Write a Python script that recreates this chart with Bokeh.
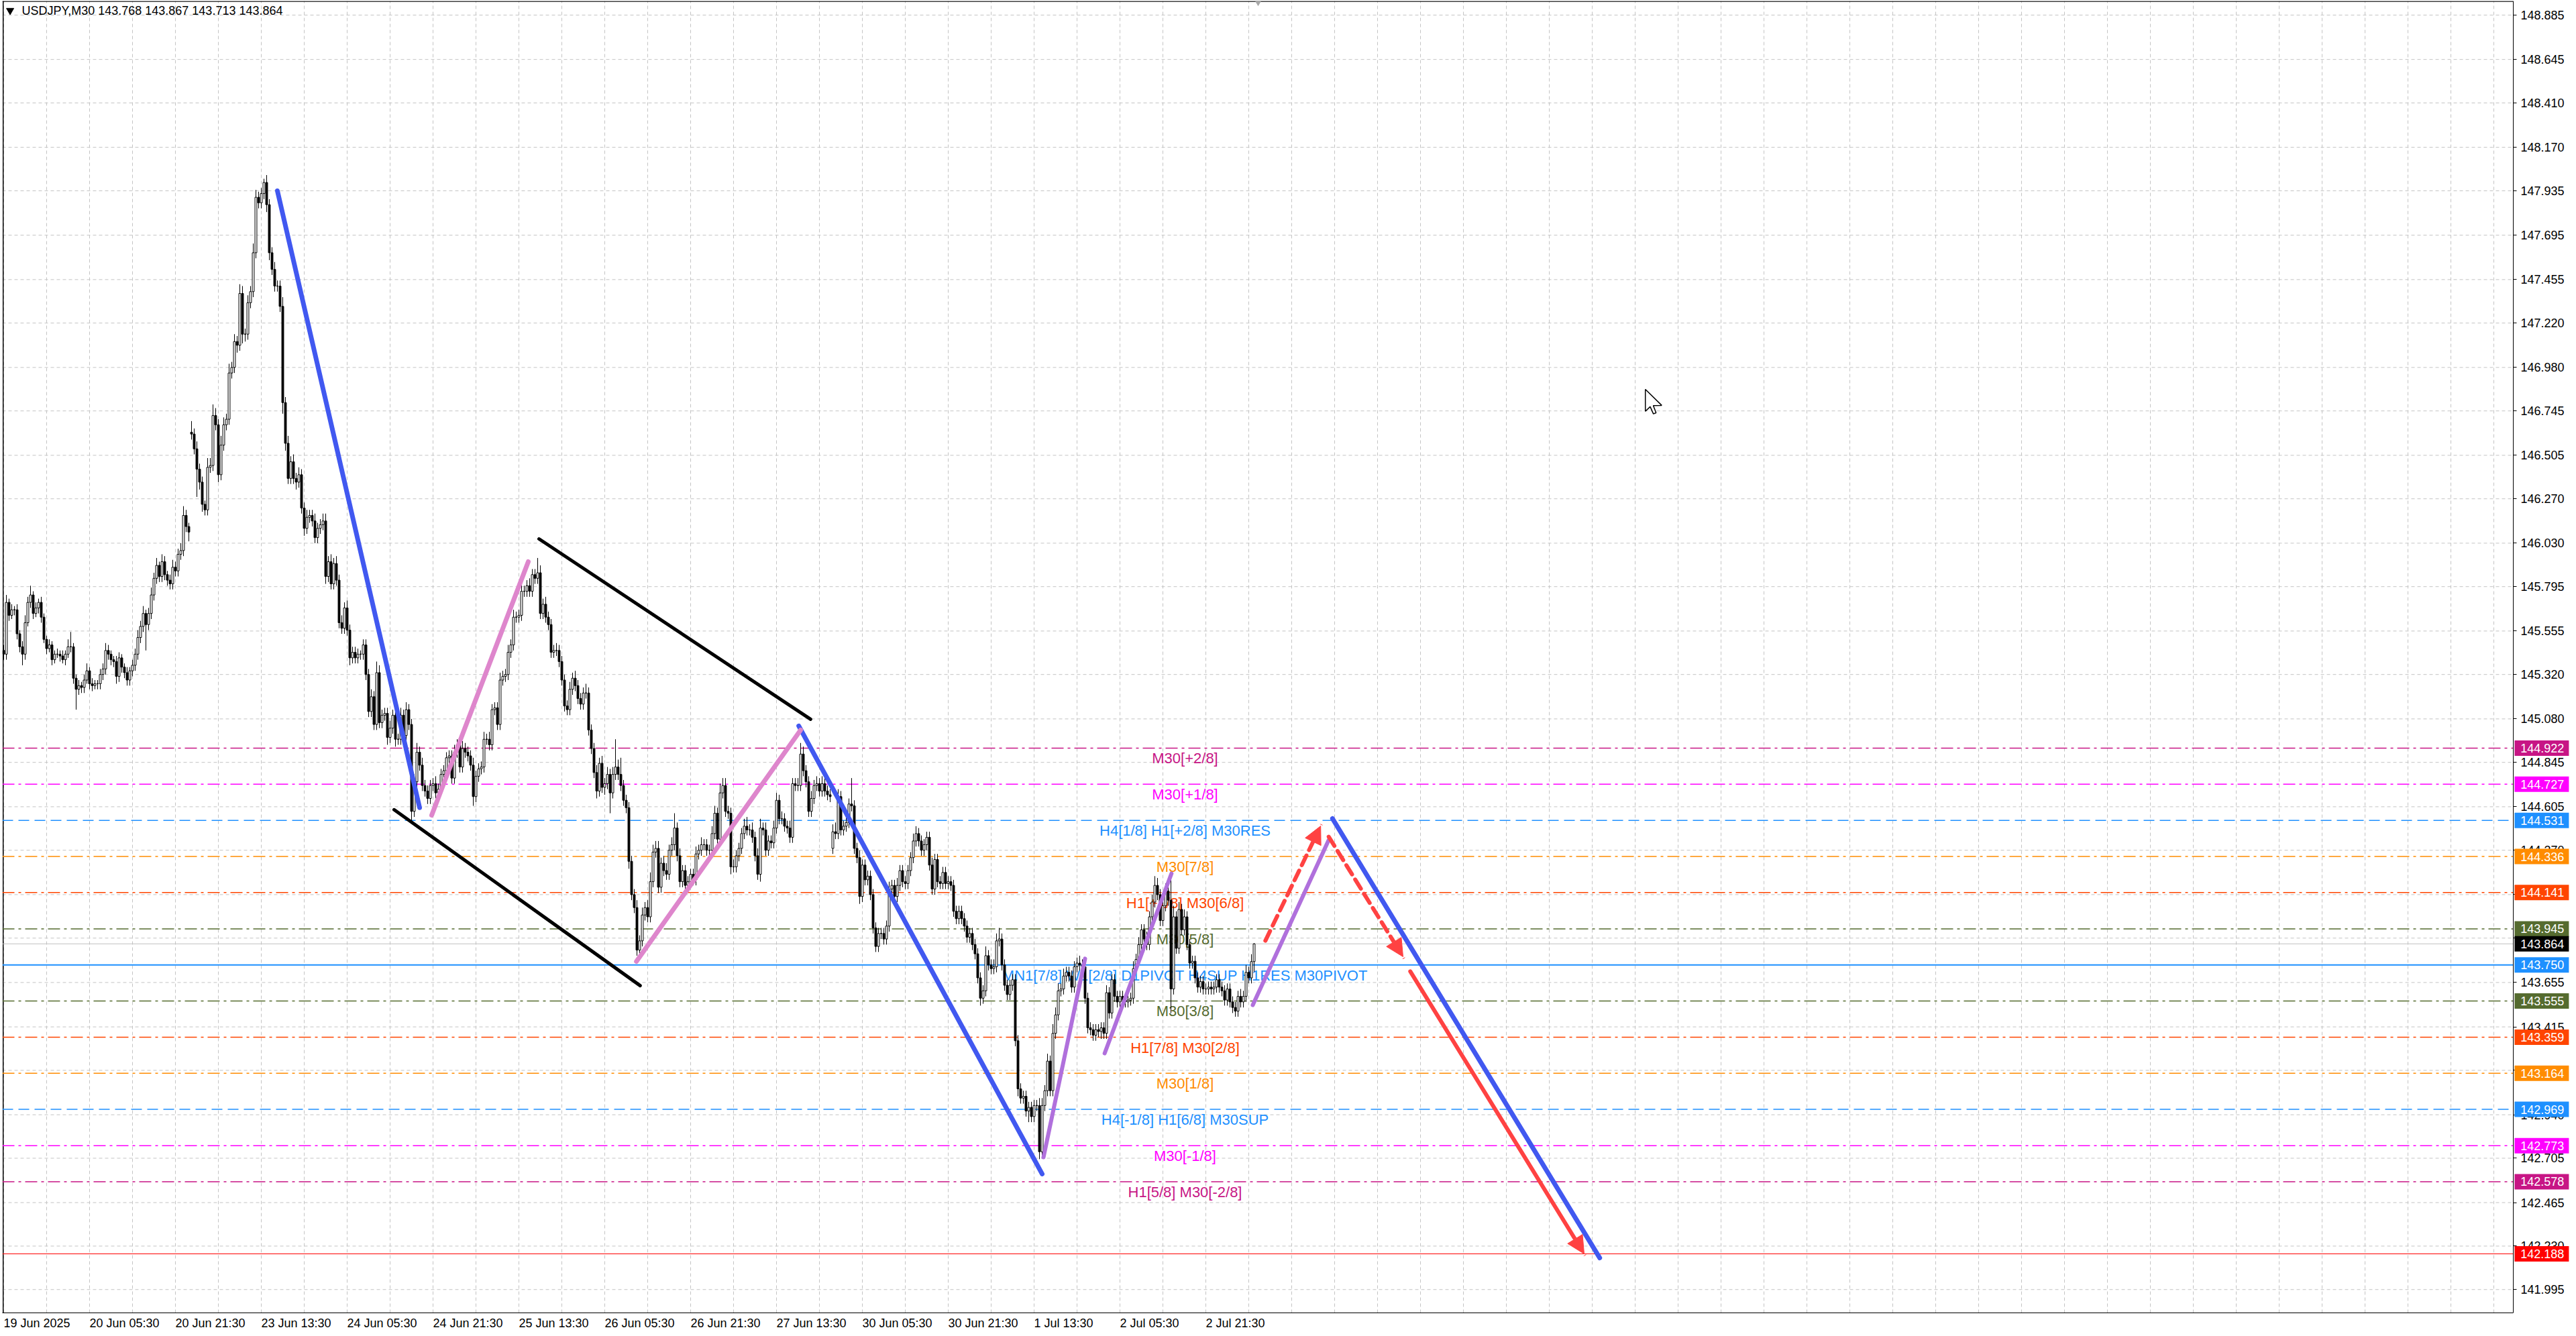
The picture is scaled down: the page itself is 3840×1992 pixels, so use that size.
from bokeh.plotting import figure
from bokeh.models import (Range1d, FixedTicker, Label, Arrow, NormalHead,
                          PrintfTickFormatter, ColumnDataSource)
from bokeh.embed import file_html
from bokeh.resources import INLINE
from bokeh.core.properties import value

# ---------------- data (M30 bars, index = bar number) ----------------
header = "USDJPY,M30  143.768 143.867 143.713 143.864"
first_open = 145.45
gap_opens = {70: 146.63, 309: 144.38}

closes = [
    145.43, 145.71, 145.64, 145.67, 145.67, 145.54, 145.47, 145.43, 145.60, 145.71, 145.75, 145.65, 145.68, 145.71, 145.63, 145.51, 145.46, 145.48, 145.40, 145.43,
    145.43, 145.42, 145.40, 145.43, 145.47, 145.47, 145.30, 145.24, 145.26, 145.25, 145.29, 145.34, 145.27, 145.26, 145.27, 145.27, 145.32, 145.35, 145.45, 145.43,
    145.40, 145.39, 145.31, 145.41, 145.36, 145.33, 145.29, 145.34, 145.37, 145.43, 145.52, 145.58, 145.65, 145.59, 145.65, 145.75, 145.84, 145.91, 145.85, 145.93,
    145.86, 145.83, 145.81, 145.90, 145.88, 145.97, 145.99, 146.18, 146.12, 146.09, 146.62, 146.54, 146.43, 146.36, 146.24, 146.21, 146.44, 146.45, 146.72, 146.67,
    146.40, 146.56, 146.67, 146.70, 146.95, 146.98, 147.12, 147.10, 147.38, 147.16, 147.16, 147.33, 147.39, 147.60, 147.90, 147.87, 147.92, 147.98, 147.86, 147.60,
    147.51, 147.42, 147.42, 147.31, 146.79, 146.57, 146.38, 146.47, 146.38, 146.36, 146.40, 146.22, 146.11, 146.17, 146.18, 146.15, 146.06, 146.11, 146.13, 146.15,
    145.85, 145.93, 145.81, 145.92, 145.83, 145.60, 145.57, 145.68, 145.56, 145.41, 145.44, 145.41, 145.43, 145.43, 145.48, 145.32, 145.12, 145.20, 145.05, 145.33,
    145.06, 145.10, 145.11, 144.98, 145.03, 145.10, 144.97, 144.97, 145.10, 144.99, 145.13, 145.05, 144.58, 144.74, 144.90, 144.83, 144.72, 144.69, 144.65, 144.72,
    144.73, 144.68, 144.70, 144.78, 144.80, 144.87, 144.88, 144.76, 144.90, 144.94, 144.82, 144.92, 144.90, 144.88, 144.83, 144.66, 144.77, 144.81, 144.82, 144.97,
    144.97, 144.94, 145.13, 145.14, 145.05, 145.29, 145.31, 145.32, 145.44, 145.48, 145.63, 145.63, 145.64, 145.77, 145.77, 145.80, 145.77, 145.86, 145.84, 145.87,
    145.65, 145.70, 145.63, 145.59, 145.44, 145.45, 145.45, 145.39, 145.29, 145.15, 145.13, 145.24, 145.30, 145.26, 145.19, 145.16, 145.22, 145.22, 145.02, 144.92,
    144.79, 144.69, 144.84, 144.71, 144.73, 144.78, 144.68, 144.78, 144.82, 144.78, 144.72, 144.64, 144.60, 144.31, 144.13, 144.06, 143.83, 143.88, 144.02, 144.06,
    144.01, 144.20, 144.36, 144.38, 144.17, 144.30, 144.26, 144.24, 144.37, 144.40, 144.49, 144.34, 144.20, 144.26, 144.18, 144.20, 144.24, 144.21, 144.35, 144.37,
    144.40, 144.40, 144.37, 144.37, 144.46, 144.57, 144.43, 144.68, 144.72, 144.58, 144.57, 144.28, 144.28, 144.34, 144.38, 144.46, 144.50, 144.48, 144.48, 144.44,
    144.34, 144.24, 144.49, 144.48, 144.37, 144.42, 144.41, 144.49, 144.64, 144.54, 144.54, 144.50, 144.49, 144.44, 144.73, 144.72, 144.72, 144.89, 144.80, 144.74,
    144.58, 144.65, 144.72, 144.73, 144.69, 144.73, 144.69, 144.67, 144.66, 144.47, 144.46, 144.66, 144.48, 144.50, 144.52, 144.62, 144.61, 144.38, 144.33, 144.12,
    144.29, 144.21, 144.23, 144.13, 143.95, 143.85, 143.92, 143.92, 143.89, 143.96, 144.16, 144.18, 144.12, 144.18, 144.26, 144.20, 144.19, 144.26, 144.33, 144.42,
    144.46, 144.42, 144.37, 144.40, 144.44, 144.29, 144.16, 144.32, 144.20, 144.19, 144.25, 144.19, 144.20, 144.18, 144.04, 144.00, 144.04, 144.00, 143.96, 143.90,
    143.92, 143.86, 143.81, 143.68, 143.57, 143.61, 143.80, 143.75, 143.73, 143.74, 143.88, 143.89, 143.75, 143.64, 143.59, 143.64, 143.67, 143.34, 143.08, 143.03,
    143.04, 142.96, 142.98, 142.93, 142.99, 142.99, 142.74, 142.99, 143.07, 143.23, 143.07, 143.38, 143.48, 143.61, 143.62, 143.69, 143.71, 143.69, 143.63, 143.74,
    143.76, 143.75, 143.74, 143.57, 143.41, 143.40, 143.37, 143.40, 143.39, 143.41, 143.38, 143.60, 143.49, 143.67, 143.58, 143.55, 143.58, 143.56, 143.55, 143.56,
    143.57, 143.73, 143.78, 143.86, 143.94, 143.89, 143.86, 144.01, 144.09, 144.18, 144.13, 143.99, 144.07, 144.15, 144.10, 143.62, 144.01, 143.84, 144.05, 143.94,
    144.01, 143.86, 143.76, 143.77, 143.68, 143.63, 143.66, 143.62, 143.62, 143.63, 143.62, 143.63, 143.67, 143.63, 143.61, 143.56, 143.62, 143.55, 143.52, 143.50,
    143.58, 143.55, 143.58, 143.71, 143.68, 143.768, 143.864,
]

# upper / lower wick lengths in hundredths of a yen
wick_up = [
    3, 4, 2, 3, 2, 3, 2, 3, 4, 3, 5, 2, 3, 2, 3, 2, 2, 3, 2, 2,
    3, 2, 3, 2, 4, 8, 2, 2, 3, 2, 3, 4, 2, 3, 2, 2, 3, 3, 4, 3,
    2, 2, 3, 3, 2, 2, 3, 2, 3, 3, 4, 3, 4, 2, 3, 4, 3, 4, 2, 4,
    3, 2, 3, 4, 3, 3, 4, 5, 3, 2, 6, 3, 4, 3, 3, 2, 5, 4, 6, 4,
    3, 5, 4, 3, 5, 3, 4, 3, 5, 4, 3, 4, 3, 5, 4, 3, 3, 2, 4, 3,
    3, 4, 3, 3, 5, 3, 4, 3, 4, 3, 4, 3, 3, 4, 3, 3, 4, 3, 3, 4,
    4, 3, 4, 3, 4, 3, 4, 3, 4, 3, 3, 3, 3, 2, 3, 3, 3, 4, 3, 6,
    4, 3, 3, 3, 4, 3, 4, 3, 4, 3, 4, 3, 3, 4, 5, 3, 4, 3, 3, 3,
    3, 4, 3, 3, 3, 3, 3, 3, 4, 3, 3, 4, 3, 3, 3, 4, 3, 3, 3, 4,
    3, 4, 3, 3, 3, 4, 3, 3, 4, 3, 4, 3, 3, 4, 3, 3, 4, 3, 3, 8,
    4, 3, 4, 3, 3, 3, 4, 3, 3, 3, 3, 4, 3, 4, 3, 3, 3, 5, 3, 3,
    3, 4, 3, 4, 3, 4, 3, 4, 15, 4, 9, 3, 3, 3, 3, 3, 4, 3, 4, 3,
    4, 5, 4, 4, 4, 3, 4, 4, 3, 4, 8, 3, 4, 3, 3, 3, 3, 3, 4, 3,
    4, 3, 3, 3, 4, 4, 3, 5, 4, 4, 3, 3, 4, 3, 3, 3, 4, 5, 3, 4,
    3, 4, 5, 3, 4, 3, 3, 4, 4, 3, 4, 3, 3, 4, 3, 3, 4, 6, 4, 3,
    3, 4, 3, 4, 3, 4, 3, 3, 3, 4, 5, 4, 3, 3, 4, 3, 14, 3, 3, 4,
    3, 3, 3, 3, 3, 3, 3, 3, 3, 3, 4, 3, 3, 4, 3, 3, 3, 3, 3, 4,
    4, 3, 3, 3, 3, 3, 4, 3, 3, 3, 3, 3, 3, 3, 3, 3, 3, 3, 3, 3,
    3, 3, 3, 3, 3, 3, 5, 3, 3, 4, 4, 6, 3, 3, 3, 3, 3, 3, 3, 3,
    3, 3, 3, 3, 3, 3, 4, 4, 3, 4, 3, 5, 4, 4, 3, 4, 3, 3, 3, 3,
    3, 4, 3, 3, 3, 3, 3, 3, 3, 3, 3, 4, 3, 3, 3, 3, 3, 3, 3, 3,
    3, 4, 3, 4, 3, 3, 4, 3, 4, 5, 4, 3, 3, 4, 3, 13, 6, 3, 4, 3,
    4, 3, 3, 3, 3, 3, 3, 3, 3, 3, 3, 3, 3, 3, 3, 3, 3, 3, 3, 3,
    3, 4, 3, 4, 3, 4, 0.3,
]
wick_dn = [
    3, 3, 3, 2, 3, 3, 3, 6, 3, 2, 3, 3, 2, 3, 3, 2, 3, 2, 3, 2,
    2, 3, 2, 3, 2, 3, 3, 11, 3, 3, 3, 2, 3, 3, 2, 3, 3, 3, 3, 3,
    3, 3, 4, 3, 3, 3, 3, 3, 3, 3, 3, 3, 3, 14, 3, 3, 3, 3, 3, 3,
    3, 3, 3, 3, 3, 3, 3, 3, 3, 5, 3, 3, 15, 4, 4, 3, 3, 3, 3, 3,
    4, 3, 3, 3, 3, 3, 3, 4, 3, 5, 4, 3, 3, 3, 3, 3, 3, 3, 4, 4,
    3, 3, 3, 3, 6, 4, 3, 3, 3, 4, 3, 3, 4, 3, 3, 3, 3, 3, 3, 3,
    4, 3, 3, 3, 3, 3, 3, 3, 3, 4, 3, 3, 3, 3, 3, 3, 3, 3, 3, 3,
    3, 3, 3, 4, 3, 3, 4, 3, 3, 3, 3, 3, 5, 3, 3, 3, 3, 3, 3, 3,
    3, 3, 3, 3, 3, 3, 3, 3, 3, 3, 3, 3, 3, 3, 3, 5, 3, 3, 3, 3,
    3, 3, 3, 3, 3, 3, 3, 3, 3, 3, 3, 3, 3, 3, 3, 3, 3, 3, 3, 3,
    3, 3, 3, 3, 3, 3, 3, 3, 3, 3, 3, 3, 3, 3, 3, 3, 3, 3, 3, 3,
    3, 4, 3, 3, 4, 3, 11, 3, 3, 3, 3, 3, 3, 4, 3, 3, 3, 5, 3, 3,
    3, 3, 3, 3, 3, 3, 3, 3, 3, 3, 3, 3, 3, 3, 3, 3, 3, 3, 3, 3,
    3, 3, 3, 3, 3, 3, 3, 3, 3, 3, 3, 4, 3, 3, 3, 3, 3, 3, 3, 3,
    3, 3, 4, 3, 3, 3, 3, 3, 3, 3, 3, 3, 3, 3, 3, 3, 3, 3, 3, 3,
    3, 3, 3, 3, 3, 3, 3, 3, 3, 3, 3, 3, 3, 3, 3, 3, 3, 3, 3, 4,
    3, 3, 3, 3, 3, 3, 3, 3, 3, 3, 3, 3, 3, 3, 3, 3, 3, 3, 3, 3,
    3, 3, 3, 3, 3, 3, 3, 3, 3, 3, 3, 3, 3, 3, 3, 3, 3, 3, 3, 3,
    3, 3, 3, 3, 4, 3, 3, 3, 3, 3, 3, 3, 3, 3, 3, 3, 3, 3, 4, 3,
    3, 3, 6, 3, 3, 3, 4, 3, 3, 3, 3, 3, 3, 3, 3, 3, 3, 3, 3, 3,
    3, 3, 3, 3, 3, 3, 3, 3, 3, 4, 3, 3, 3, 3, 3, 3, 3, 3, 3, 3,
    3, 3, 3, 3, 3, 3, 3, 3, 3, 3, 3, 3, 3, 3, 3, 13, 3, 3, 3, 3,
    3, 3, 3, 3, 3, 3, 3, 3, 3, 3, 3, 3, 3, 3, 3, 3, 3, 3, 3, 3,
    3, 3, 3, 3, 3, 3, 5.5,
]

date_ticks = [0, 32, 64, 96, 128, 160, 192, 224, 256, 288, 320, 352, 384, 416, 448]
date_labels = ["19 Jun 2025", "20 Jun 05:30", "20 Jun 21:30", "23 Jun 13:30", "24 Jun 05:30",
               "24 Jun 21:30", "25 Jun 13:30", "26 Jun 05:30", "26 Jun 21:30", "27 Jun 13:30",
               "30 Jun 05:30", "30 Jun 21:30", "1 Jul 13:30", "2 Jul 05:30", "2 Jul 21:30"]
grid_bars = list(range(0, 936, 16))

price_ticks = [148.885, 148.645, 148.410, 148.170, 147.935, 147.695, 147.455, 147.220, 146.980,
               146.745, 146.505, 146.270, 146.030, 145.795, 145.555, 145.320, 145.080, 144.845,
               144.605, 144.370, 144.130, 143.895, 143.655, 143.415, 143.180, 142.940, 142.705,
               142.465, 142.230, 141.995]

# Murrey-math style levels
level_prices = [144.922, 144.727, 144.531, 144.336, 144.141, 143.945, 143.750,
                143.555, 143.359, 143.164, 142.969, 142.773, 142.578]
level_names = ["M30[+2/8]", "M30[+1/8]", "H4[1/8] H1[+2/8] M30RES", "M30[7/8]",
               "H1[+1/8] M30[6/8]", "M30[5/8]", "MN1[7/8] W1[2/8] D1PIVOT H4SUP H1RES M30PIVOT",
               "M30[3/8]", "H1[7/8] M30[2/8]", "M30[1/8]", "H4[-1/8] H1[6/8] M30SUP",
               "M30[-1/8]", "H1[5/8] M30[-2/8]"]
level_colors = ["#C71585", "#FF00FF", "#1E90FF", "#FF8C00", "#FF4500", "#556B2F", "#1E90FF",
                "#556B2F", "#FF4500", "#FF8C00", "#1E90FF", "#FF00FF", "#C71585"]
level_styles = ["dashdot", "dashdot", "dash", "dashdot", "dashdot", "dashdot", "solid",
                "dashdot", "dashdot", "dashdot", "dash", "dashdot", "dashdot"]
label_bar = 440.25

current_price = 143.864
target_price = 142.188

tag_prices = [144.922, 144.727, 144.531, 144.336, 144.141, 143.945, 143.864, 143.750,
              143.555, 143.359, 143.164, 142.969, 142.773, 142.578, 142.188]
tag_colors = ["#C71585", "#FF00FF", "#1E90FF", "#FF8C00", "#FF4500", "#556B2F", "#000000",
              "#1E90FF", "#556B2F", "#FF4500", "#FF8C00", "#1E90FF", "#FF00FF", "#C71585", "#FF0000"]

# hand-drawn trend lines (bar, price)
seg_x0 = [102.0, 296.3, 495.2, 145.5, 199.5, 159.5, 235.8, 387.5, 410.3, 465.5]
seg_y0 = [147.935, 145.042, 144.541, 144.589, 146.053, 144.559, 143.769, 142.710, 143.272, 143.533]
seg_x1 = [155.0, 387.0, 594.8, 237.2, 300.7, 195.5, 297.0, 403.0, 435.2, 493.8]
seg_y1 = [144.600, 142.620, 142.166, 143.638, 145.078, 145.930, 145.020, 143.784, 144.244, 144.425]
seg_colors = ["#4158F0", "#4158F0", "#4158F0", "#000000", "#000000",
              "#DE86CC", "#DE86CC", "#B070DC", "#B070DC", "#B070DC"]
seg_widths = [7, 7, 7, 5, 5, 7, 7, 6, 6, 6]

arrow_x0 = [470.2, 493.8, 524.2]
arrow_y0 = [143.881, 144.443, 143.715]
arrow_x1 = [490.8, 521.5, 589.0]
arrow_y1 = [144.501, 143.794, 142.188]
arrow_dash = ["16 9", "16 9", "solid"]

# mouse pointer seen on the screenshot (bar, price)
cursor_x = [611.8, 611.8, 613.6, 614.8, 615.8, 614.75, 617.9]
cursor_y = [146.862, 146.743, 146.768, 146.729, 146.735, 146.774, 146.775]

# ---------------- build ----------------
n = len(closes)
opens = []
for i in range(n):
    if i == 0:
        opens.append(first_open)
    elif i in gap_opens:
        opens.append(gap_opens[i])
    else:
        opens.append(closes[i - 1])
highs = [max(o, c) + u / 100.0 for o, c, u in zip(opens, closes, wick_up)]
lows = [min(o, c) - d / 100.0 for o, c, d in zip(opens, closes, wick_dn)]
xs = list(range(n))

FONT = "Liberation Sans"
AX_FS = 18
PX_PER_BAR = 4.0
X_START = -0.5          # left edge of the chart area
X_AXIS = 935.25         # bar position of the price scale line
X_END = 958.75          # right edge of the canvas (frame reaches the window edge)
Y_LO, Y_HI = 141.869, 148.961

# date labels start at their tick (MetaTrader style): shift label centre by half its width
char_em = {" ": 0.278, ":": 0.278, "J": 0.5, "u": 0.556, "n": 0.556, "l": 0.222}
def half_width_bars(s):
    return sum(char_em.get(c, 0.556) for c in s) * AX_FS / 2.0 / PX_PER_BAR
label_pos = [round(t + half_width_bars(l), 3) for t, l in zip(date_ticks, date_labels)]

p = figure(width=3840, height=1992,
           x_range=Range1d(X_START, X_END), y_range=Range1d(Y_LO, Y_HI),
           output_backend="svg", toolbar_location=None, y_axis_location="right",
           min_border_left=3, min_border_top=1, min_border_right=0, min_border_bottom=35)
p.background_fill_color = "white"
p.border_fill_color = "white"
p.outline_line_color = None

# axes
p.xaxis.ticker = FixedTicker(ticks=label_pos)
p.xaxis.major_label_overrides = {t: l for t, l in zip(label_pos, date_labels)}
p.xaxis.major_tick_out = 0
p.xaxis.major_tick_in = 0
p.xaxis.major_label_standoff = 5
p.xaxis.bounds = (X_START, X_AXIS)
p.yaxis.ticker = FixedTicker(ticks=price_ticks)
p.yaxis.formatter = PrintfTickFormatter(format="%.3f")
p.yaxis.major_tick_out = 5
p.yaxis.major_tick_in = 0
p.yaxis.major_label_standoff = 6
p.yaxis.fixed_location = X_AXIS
for ax in (p.xaxis, p.yaxis):
    ax.minor_tick_line_color = None
    ax.axis_line_color = "black"
    ax.major_tick_line_color = "black"
    ax.major_label_text_font = FONT
    ax.major_label_text_font_size = f"{AX_FS}px"
    ax.major_label_text_color = "black"

p.xgrid.ticker = FixedTicker(ticks=grid_bars)
p.xgrid.grid_line_color = "#C4C4C4"
p.xgrid.grid_line_dash = "5 4"
p.ygrid.visible = False
# horizontal grid lines stop at the price scale
p.segment(x0=[X_START] * len(price_ticks), y0=price_ticks, x1=[X_AXIS] * len(price_ticks),
          y1=price_ticks, line_color="#C4C4C4", line_dash="5 4", line_width=1)

# chart border (left and top)
p.segment(x0=[X_START + 0.3, X_START], y0=[Y_LO, Y_HI - 0.002], x1=[X_START + 0.3, X_AXIS],
          y1=[Y_HI, Y_HI - 0.002], line_color="black", line_width=1.5)

# level lines
dash_map = {"dashdot": "18 6 4 6", "dash": "16 8", "solid": "solid"}
for pr, col, st in zip(level_prices, level_colors, level_styles):
    p.segment(x0=[X_START], y0=[pr], x1=[X_AXIS], y1=[pr], line_color=col,
              line_dash=dash_map[st], line_width=2 if st == "solid" else 1.5)
p.segment(x0=[X_START], y0=[current_price], x1=[X_AXIS], y1=[current_price],
          line_color="#C0C0C0", line_width=1)
p.segment(x0=[X_START], y0=[target_price], x1=[X_AXIS], y1=[target_price],
          line_color="#FF0000", line_width=1)

# level labels
lab_src = ColumnDataSource(dict(x=[label_bar] * len(level_prices), y=level_prices,
                                text=level_names, color=level_colors))
p.text(x="x", y="y", text="text", source=lab_src, text_color="color",
       text_font=value(FONT), text_font_size=value("22px"),
       text_align="center", text_baseline="top", y_offset=3)

# candles
p.segment(x0=xs, y0=lows, x1=xs, y1=highs, line_color="black", line_width=1)
bull = [i for i in range(n) if closes[i] >= opens[i]]
bear = [i for i in range(n) if closes[i] < opens[i]]
p.vbar(x=bull, width=0.72, top=[closes[i] for i in bull],
       bottom=[opens[i] for i in bull], fill_color="white", line_color="black", line_width=1)
p.vbar(x=bear, width=0.72, top=[opens[i] for i in bear],
       bottom=[closes[i] for i in bear], fill_color="black", line_color="black", line_width=1)

# trend lines
seg_src = ColumnDataSource(dict(x0=seg_x0, y0=seg_y0, x1=seg_x1, y1=seg_y1,
                                color=seg_colors, w=seg_widths))
p.segment(x0="x0", y0="y0", x1="x1", y1="y1", source=seg_src, line_color="color",
          line_width="w", line_cap="round")

# arrows
for x0, y0, x1, y1, d in zip(arrow_x0, arrow_y0, arrow_x1, arrow_y1, arrow_dash):
    p.add_layout(Arrow(end=NormalHead(size=26, fill_color="#FF4242", line_color="#FF4242"),
                       x_start=x0, y_start=y0, x_end=x1, y_end=y1,
                       line_color="#FF4242", line_width=6, line_dash=d, line_cap="round"))

# mouse pointer
p.patch(x=cursor_x, y=cursor_y, fill_color="white", line_color="black", line_width=1.5)

# header
p.scatter(x=[2.4], y=[148.910], marker="inverted_triangle", size=11, color="black")
p.add_layout(Label(x=6.75, y=148.910, text=header, text_baseline="middle",
                   text_font=FONT, text_font_size="18px", text_color="black"))
p.scatter(x=[467.5], y=[Y_HI], marker="inverted_triangle", size=12, color="#A8A8A8")

# price tags on the right scale, drawn above the axis labels
tag_src = ColumnDataSource(dict(x=[X_AXIS + 10.6] * len(tag_prices), y=tag_prices,
                                tx=[X_AXIS + 2.7] * len(tag_prices),
                                text=[f"{v:.3f}" for v in tag_prices], bg=tag_colors))
r_box = p.rect(x="x", y="y", width=20.25, height=23, height_units="screen",
               source=tag_src, fill_color="bg", line_color=None)
r_box.level = "overlay"
r_txt = p.text(x="tx", y="y", text="text", source=tag_src, text_color="white",
               text_font=value(FONT), text_font_size=value("18px"),
               text_align="left", text_baseline="middle")
r_txt.level = "overlay"

open("out.html", "w").write(file_html(p, INLINE))
